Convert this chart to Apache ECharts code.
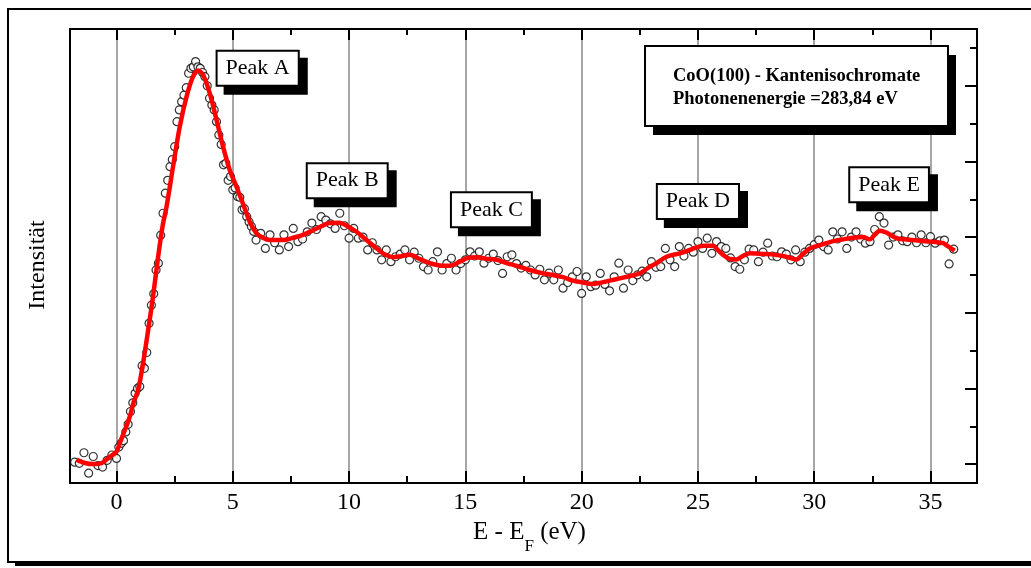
<!DOCTYPE html>
<html>
<head>
<meta charset="utf-8">
<script src="https://cdn.jsdelivr.net/npm/echarts@6.0.0/dist/echarts.min.js"></script>
<style>
  html, body { margin: 0; padding: 0; background: #fff; }
  #chart { width: 1031px; height: 568px; }
</style>
</head>
<body>
<div id="chart"></div>
<script>
// x ticks (eV)
const majorTicksX = [0, 5, 10, 15, 20, 25, 30, 35];
const minorTicksX = [2.5, 7.5, 12.5, 17.5, 22.5, 27.5, 32.5];
// y ticks (arbitrary units, no labels)
const majorTicksY = [0, 2, 4, 6, 8, 10];
const minorTicksY = [1, 3, 5, 7, 9, 11];

// fitted curve (red)
const fitCurve = [
  [-1.72, 0.11], [-1.36, 0.03], [-1.01, 0.00], [-0.63, 0.03], [-0.29, 0.19], [0, 0.33],
  [0.14, 0.55], [0.36, 0.90], [0.57, 1.25], [0.74, 1.64], [0.93, 1.96], [1.14, 2.66],
  [1.36, 3.54], [1.57, 4.43], [1.79, 5.48], [1.99, 6.32], [2.15, 6.80], [2.43, 7.86],
  [2.72, 8.92], [3.01, 9.71], [3.29, 10.24], [3.51, 10.40], [3.72, 10.29], [4.01, 9.80],
  [4.30, 9.10], [4.58, 8.39], [4.87, 7.77], [5.16, 7.33], [5.59, 6.63], [5.73, 6.40],
  [6.02, 6.10], [6.29, 5.98], [6.59, 5.92], [7.16, 5.92], [7.58, 5.98], [8.02, 6.06],
  [8.65, 6.24], [9.17, 6.37], [9.60, 6.38], [9.89, 6.30], [10.32, 6.14], [10.75, 5.92],
  [11.11, 5.74], [11.46, 5.57], [11.89, 5.47], [12.18, 5.49], [12.61, 5.53], [13.04, 5.42],
  [13.47, 5.31], [13.90, 5.25], [14.33, 5.24], [14.76, 5.35], [15.10, 5.45], [15.48, 5.47],
  [15.88, 5.43], [16.34, 5.40], [16.74, 5.32], [17.20, 5.24], [17.77, 5.13], [18.34, 5.04],
  [18.76, 5.00], [19.20, 4.94], [19.62, 4.85], [20.06, 4.80], [20.43, 4.76], [20.78, 4.79],
  [21.21, 4.85], [21.64, 4.91], [22.07, 4.97], [22.50, 5.04], [22.84, 5.18], [23.22, 5.31],
  [23.65, 5.48], [24.22, 5.57], [24.65, 5.66], [24.94, 5.73], [25.29, 5.77], [25.65, 5.77],
  [25.85, 5.66], [26.08, 5.53], [26.37, 5.42], [26.66, 5.41], [26.93, 5.50], [27.23, 5.57],
  [27.94, 5.55], [28.34, 5.53], [28.80, 5.48], [29.23, 5.41], [29.51, 5.55], [29.81, 5.70],
  [30.15, 5.77], [30.52, 5.84], [30.88, 5.90], [31.24, 5.94], [31.66, 5.98], [32.10, 6.00],
  [32.39, 5.94], [32.60, 6.06], [32.82, 6.17], [33.10, 6.12], [33.53, 5.97], [33.89, 5.94],
  [34.25, 5.92], [34.62, 5.90], [34.97, 5.88], [35.22, 5.87], [35.54, 5.84], [35.74, 5.76],
  [36.04, 5.64]
];

// measured points (open circles)
const measured = [
  [-1.8, 0.05], [-1.6, 0.02], [-1.4, 0.30], [-1.2, -0.24], [-1.0, 0.20], [-0.8, -0.04],
  [-0.6, -0.08], [-0.4, 0.10], [-0.2, 0.24], [0.0, 0.15], [0.1, 0.45], [0.2, 0.55],
  [0.3, 0.62], [0.4, 0.85], [0.5, 1.05], [0.6, 1.39], [0.7, 1.62], [0.8, 1.87],
  [0.9, 2.00], [1.0, 2.05], [1.1, 2.60], [1.2, 2.53], [1.3, 2.95], [1.4, 3.72],
  [1.5, 4.20], [1.6, 4.50], [1.7, 5.13], [1.8, 5.31], [1.9, 6.05], [2.0, 6.63],
  [2.1, 7.16], [2.2, 7.50], [2.3, 7.86], [2.4, 8.05], [2.5, 8.39], [2.6, 9.05],
  [2.7, 9.36], [2.8, 9.58], [2.9, 9.75], [3.0, 9.95], [3.1, 10.33], [3.2, 10.46],
  [3.3, 10.50], [3.4, 10.64], [3.5, 10.50], [3.6, 10.46], [3.7, 10.35], [3.8, 10.24],
  [3.9, 10.00], [4.0, 9.67], [4.1, 9.49], [4.2, 9.36], [4.3, 9.05], [4.4, 8.70],
  [4.5, 8.45], [4.6, 7.91], [4.7, 7.95], [4.8, 7.50], [4.9, 7.60], [5.0, 7.25],
  [5.1, 7.30], [5.2, 7.07], [5.3, 7.05], [5.4, 6.72], [5.5, 6.75], [5.6, 6.54],
  [5.7, 6.40], [5.8, 6.28], [5.9, 6.15],
  [6.0, 5.92], [6.2, 6.10], [6.4, 5.70], [6.6, 6.06], [6.8, 5.85], [7.0, 5.66],
  [7.2, 6.06], [7.4, 5.75], [7.6, 6.23], [7.8, 5.88], [8.0, 5.95], [8.2, 6.14],
  [8.4, 6.37], [8.6, 6.20], [8.8, 6.54], [9.0, 6.45], [9.2, 6.35], [9.4, 6.23],
  [9.6, 6.63], [9.8, 6.30], [10.0, 5.97], [10.2, 6.23], [10.4, 5.97], [10.6, 6.00],
  [10.8, 5.66], [11.0, 5.85], [11.2, 5.66], [11.4, 5.40], [11.6, 5.66], [11.8, 5.35],
  [12.0, 5.48], [12.2, 5.55], [12.4, 5.66], [12.6, 5.40], [12.8, 5.60], [13.0, 5.44],
  [13.2, 5.22], [13.4, 5.13], [13.6, 5.35], [13.8, 5.61], [14.0, 5.13], [14.2, 5.30],
  [14.4, 5.44], [14.6, 5.13], [14.8, 5.30], [15.0, 5.40], [15.2, 5.61], [15.4, 5.50],
  [15.6, 5.61], [15.8, 5.31], [16.0, 5.44], [16.2, 5.55], [16.4, 5.38], [16.6, 5.04],
  [16.8, 5.48], [17.0, 5.53], [17.2, 5.30], [17.4, 5.18], [17.6, 5.25], [17.8, 5.13],
  [18.0, 5.00], [18.2, 5.15], [18.4, 4.87], [18.6, 5.05], [18.8, 4.87], [19.0, 5.13],
  [19.2, 4.65], [19.4, 4.80], [19.6, 4.95], [19.8, 5.09], [20.0, 4.51], [20.2, 4.95],
  [20.4, 4.69], [20.6, 4.73], [20.8, 5.04], [21.0, 4.75], [21.2, 4.58], [21.4, 4.95],
  [21.6, 5.31], [21.8, 4.65], [22.0, 5.13], [22.2, 4.85], [22.4, 5.00], [22.6, 5.10],
  [22.8, 4.95], [23.0, 5.35], [23.2, 5.20], [23.4, 5.22], [23.6, 5.70], [23.8, 5.40],
  [24.0, 5.22], [24.2, 5.75], [24.4, 5.50], [24.6, 5.70], [24.8, 5.60], [25.0, 5.88],
  [25.2, 5.70], [25.4, 5.97], [25.6, 5.57], [25.8, 5.88], [26.0, 5.75], [26.2, 5.70],
  [26.4, 5.45], [26.6, 5.22], [26.8, 5.15], [27.0, 5.40], [27.2, 5.68], [27.4, 5.66],
  [27.6, 5.35], [27.8, 5.60], [28.0, 5.84], [28.2, 5.50], [28.4, 5.48], [28.6, 5.61],
  [28.8, 5.55], [29.0, 5.40], [29.2, 5.66], [29.4, 5.35], [29.6, 5.60], [29.8, 5.70],
  [30.0, 5.80], [30.2, 5.92], [30.4, 5.75], [30.6, 5.66], [30.8, 6.14], [31.0, 5.95],
  [31.2, 6.14], [31.4, 5.70], [31.6, 6.00], [31.8, 6.14], [32.0, 5.95], [32.2, 5.84],
  [32.4, 5.88], [32.6, 6.20], [32.8, 6.54], [33.0, 6.37], [33.2, 5.79], [33.4, 6.00],
  [33.6, 6.06], [33.8, 5.90], [34.0, 5.88], [34.2, 6.00], [34.4, 5.85], [34.6, 6.06],
  [34.8, 5.85], [35.0, 6.01], [35.2, 5.84], [35.4, 5.90], [35.6, 5.92], [35.8, 5.29],
  [36.0, 5.68]
];

// peak annotations (data coordinates of box centres)
const peakNames = ['Peak A', 'Peak B', 'Peak C', 'Peak D', 'Peak E'];
const peakX = [6.07, 9.92, 16.12, 25.0, 33.22];
const peakY = [10.46, 7.49, 6.72, 6.94, 7.38];

const infoLines = ['CoO(100) - Kantenisochromate', 'Photonenenergie =283,84 eV'];

const FONT = '"Liberation Serif", "Times New Roman", serif';

function tickAxisX(position, values, len, extra) {
  return Object.assign({
    type: 'value', min: -2, max: 37, position: position,
    axisLine: { show: false, onZero: false },
    axisTick: { show: true, inside: true, length: len, customValues: values,
      lineStyle: { color: '#000', width: 2 } },
    axisLabel: { show: false },
    splitLine: { show: false }
  }, extra || {});
}

function tickAxisY(values, len) {
  return {
    type: 'value', min: -0.5, max: 11.5, position: 'right',
    axisLine: { show: false, onZero: false },
    axisTick: { show: true, inside: true, length: len, customValues: values,
      lineStyle: { color: '#000', width: 2 } },
    axisLabel: { show: false },
    splitLine: { show: false }
  };
}

// box with a solid black drop shadow
function shadowBox(x, y, w, h, dx, dy, z) {
  return [
    { type: 'rect', z: z, shape: { x: x + dx, y: y + dy, width: w, height: h },
      style: { fill: '#000' } },
    { type: 'rect', z: z, shape: { x: x, y: y, width: w, height: h },
      style: { fill: '#fff', stroke: '#000', lineWidth: 2 } }
  ];
}

const chart = echarts.init(document.getElementById('chart'));

chart.setOption({
  animation: false,
  backgroundColor: '#fff',
  textStyle: { fontFamily: FONT, color: '#000' },
  grid: {
    left: 70, right: 54, top: 29, bottom: 85,
    show: true, borderColor: '#000', borderWidth: 2,
    backgroundColor: 'transparent'
  },
  xAxis: [
    tickAxisX('bottom', majorTicksX, 12, {
      axisLabel: { show: true, customValues: majorTicksX, fontSize: 24,
        fontFamily: FONT, color: '#000', margin: 8 },
      splitLine: { show: true, lineStyle: { color: '#888', width: 1.5 } },
      name: '{a|E - E}{s|F}{a| (eV)}',
      nameLocation: 'middle',
      nameGap: 34,
      nameTextStyle: {
        color: '#000',
        padding: [0, 0, 0, 12],
        rich: {
          a: { fontSize: 25, fontFamily: FONT, lineHeight: 30, verticalAlign: 'top', color: '#000' },
          s: { fontSize: 17, fontFamily: FONT, verticalAlign: 'top', padding: [18, 0, 0, 0], color: '#000' }
        }
      }
    }),
    tickAxisX('bottom', minorTicksX, 7),
    tickAxisX('top', majorTicksX, 11),
    tickAxisX('top', minorTicksX, 6)
  ],
  yAxis: [
    {
      type: 'value', min: -0.5, max: 11.5, position: 'left',
      axisLine: { show: false, onZero: false }, axisTick: { show: false },
      axisLabel: { show: false }, splitLine: { show: false },
      name: 'Intensität', nameLocation: 'middle', nameGap: 20,
      nameTextStyle: { fontSize: 24, fontFamily: FONT, color: '#000', padding: [0, 18, 0, 0] }
    },
    tickAxisY(majorTicksY, 12),
    tickAxisY(minorTicksY, 7)
  ],
  graphic: [
    {
      type: 'group', z: -10, silent: true,
      children: shadowBox(8, 9, 1060, 553, 7, 4, -10)
    },
    {
      type: 'group', z: 100,
      children: shadowBox(645, 46, 303, 80, 8, 9, 100).concat([
        {
          type: 'text', x: 673, y: 76, z: 101,
          style: { text: infoLines[0], fontSize: 18.5, fontWeight: 'bold', fontFamily: FONT,
            fill: '#000', verticalAlign: 'middle', align: 'left' }
        },
        {
          type: 'text', x: 673, y: 99.5, z: 101,
          style: { text: infoLines[1], fontSize: 18.5, fontWeight: 'bold', fontFamily: FONT,
            fill: '#000', verticalAlign: 'middle', align: 'left' }
        }
      ])
    }
  ],
  series: [
    {
      type: 'scatter',
      xAxisIndex: 0, yAxisIndex: 0,
      data: measured,
      symbol: 'circle',
      symbolSize: 8,
      itemStyle: { color: '#fff', borderColor: '#000', borderWidth: 1.2 },
      z: 2
    },
    {
      type: 'line',
      xAxisIndex: 0, yAxisIndex: 0,
      data: fitCurve,
      showSymbol: false,
      smooth: 0.3,
      lineStyle: { color: '#ff0000', width: 4.5 },
      z: 3,
      markPoint: {
        symbol: 'rect', symbolSize: 1,
        itemStyle: { color: 'transparent' },
        label: {
          show: true, position: 'inside', formatter: '{b}',
          fontSize: 22, fontFamily: FONT, color: '#000',
          backgroundColor: '#fff', borderColor: '#000', borderWidth: 2,
          padding: [6, 8, 5, 8],
          shadowColor: '#000', shadowOffsetX: 8, shadowOffsetY: 8, shadowBlur: 0
        },
        data: peakNames.map((n, i) => ({ name: n, coord: [peakX[i], peakY[i]] }))
      }
    }
  ]
});
</script>
</body>
</html>
